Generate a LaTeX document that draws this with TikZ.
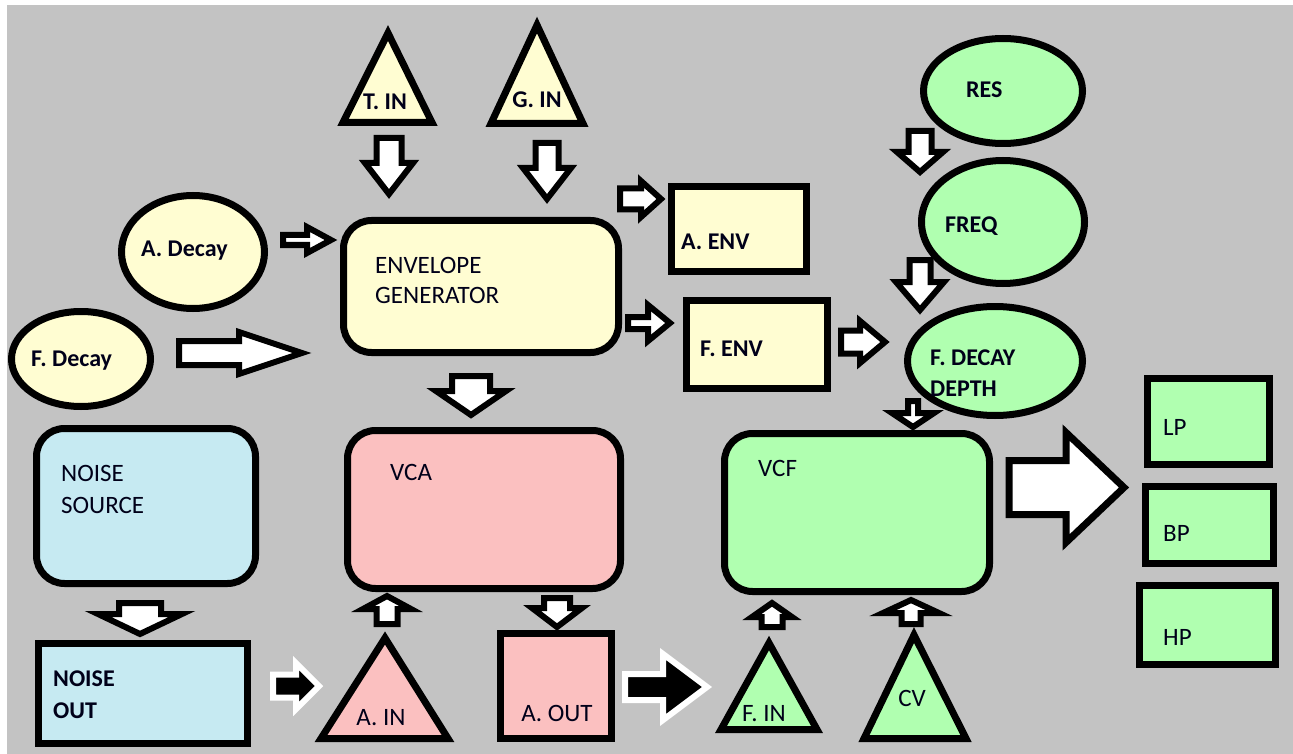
\documentclass[tikz,border=0pt]{standalone}
\usepackage{fontspec}
\setmainfont{Carlito}
\usetikzlibrary{shapes.geometric}
\definecolor{bggray}{RGB}{195,195,195}
\definecolor{cream}{RGB}{255,253,210}
\definecolor{pinkc}{RGB}{251,192,192}
\definecolor{bluec}{RGB}{198,234,242}
\definecolor{greenc}{RGB}{176,255,176}
% block arrow: style, tail x, tail y, angle, length, shaft half width, head half width, head length
\newcommand{\barr}[8]{\draw[#1, shift={(#2,#3)}, rotate=#4] (0,-#6) -- ({#5-#8},-#6) -- ({#5-#8},-#7) -- (#5,0) -- ({#5-#8},#7) -- ({#5-#8},#6) -- (0,#6) -- cycle;}
\begin{document}
\begin{tikzpicture}[x=1pt,y=-1pt,
  box/.style={draw=black, line width=7pt, inner sep=0pt},
  rbox/.style={box, rounded corners=28pt},
  ell/.style={box, ellipse},
  tri/.style={draw=black, line width=7pt, line join=miter},
  warrow/.style={draw=black, fill=white, line width=6pt, line join=miter},
  barrow/.style={draw=white, fill=black, line width=6pt, line join=miter},
  lbl/.style={inner sep=0pt, anchor=base west, text=black!90!blue, font=\fontsize{25}{30}\selectfont},
  blbl/.style={lbl, font=\bfseries\fontsize{24}{29}\selectfont},
  clbl/.style={lbl, anchor=base},
]
\useasboundingbox (0,0) rectangle (1293,754);
\fill[white] (0,0) rectangle (1293,754);
\fill[bggray] (7,5) rectangle (1293,754);

% ---- shapes ----
\node[rbox, fill=cream, minimum width=275pt, minimum height=132pt] (eg) at (481,286.5) {};
\node[rbox, fill=pinkc, minimum width=273pt, minimum height=158pt] (vca) at (484,509.5) {};
\node[rbox, fill=bluec, minimum width=219pt, minimum height=155pt] (ns) at (146,506) {};
\node[rbox, fill=greenc, minimum width=265pt, minimum height=158pt] (vcf) at (857,512.5) {};

\node[box, fill=cream, minimum width=135pt, minimum height=85pt] (aenv) at (739,229) {};
\node[box, fill=cream, minimum width=141pt, minimum height=88pt] (fenv) at (757,344.5) {};
\node[box, fill=bluec, minimum width=209pt, minimum height=100pt] (nout) at (143,693.5) {};
\node[box, fill=pinkc, minimum width=111pt, minimum height=105pt] (aout) at (556,686) {};
\node[box, fill=greenc, minimum width=122pt, minimum height=86pt] (lp) at (1208.5,421.5) {};
\node[box, fill=greenc, minimum width=128pt, minimum height=77pt] (bp) at (1209.5,525) {};
\node[box, fill=greenc, minimum width=136pt, minimum height=79pt] (hp) at (1207.5,625) {};

\node[ell, fill=cream, minimum width=143pt, minimum height=113pt] (adec) at (193,252) {};
\node[ell, fill=cream, minimum width=139pt, minimum height=95pt] (fdec) at (81,359) {};
\node[ell, fill=greenc, minimum width=159pt, minimum height=105pt] (res) at (1003,91) {};
\node[ell, fill=greenc, minimum width=163pt, minimum height=123pt] (freq) at (1003,222) {};
\node[ell, fill=greenc, minimum width=175pt, minimum height=109pt] (fdd) at (995,361) {};

% triangles
\draw[tri, fill=cream] (388,33) -- (432,122.5) -- (343,122.5) -- cycle;
\draw[tri, fill=cream] (537,25) -- (583,123.5) -- (491,123.5) -- cycle;
\draw[tri, fill=pinkc] (385,638) -- (448,738.5) -- (321,738.5) -- cycle;
\draw[tri, fill=greenc] (769,643) -- (817,729.5) -- (721,729.5) -- cycle;
\draw[tri, fill=greenc] (914,635) -- (966,738.5) -- (864,738.5) -- cycle;

% ---- labels ----
\node[clbl, font=\bfseries\fontsize{24}{29}\selectfont] (tin) at (385,110) {T. IN};
\node[clbl, font=\bfseries\fontsize{24}{29}\selectfont] (gin) at (537,108) {G. IN};
\node[blbl] (adect) at (141,256) {A. Decay};
\node[blbl] (fdect) at (31,366) {F. Decay};
\node[lbl] (egt1) at (375,273) {ENVELOPE};
\node[lbl] (egt2) at (375,303) {GENERATOR};
\node[blbl] (aenvt) at (681,250) {A. ENV};
\node[blbl] (fenvt) at (700,356) {F. ENV};
\node[blbl] (rest) at (966,98) {RES};
\node[blbl] (freqt) at (945,233) {FREQ};
\node[blbl] (fddt1) at (930,365) {F. DECAY};
\node[blbl] (fddt2) at (930,396) {DEPTH};
\node[lbl] (nst1) at (61,481) {NOISE};
\node[lbl] (nst2) at (61,513) {SOURCE};
\node[lbl] (vcat) at (390,480) {VCA};
\node[lbl] (vcft) at (758,476) {VCF};
\node[lbl] (lpt) at (1163,435) {LP};
\node[lbl] (bpt) at (1163,541) {BP};
\node[lbl] (hpt) at (1163,645) {HP};
\node[blbl] (noutt1) at (53,686) {NOISE};
\node[blbl] (noutt2) at (53,718) {OUT};
\node[clbl] (aint) at (381,725) {A. IN};
\node[clbl] (aoutt) at (557,721) {A. OUT};
\node[clbl] (fint) at (764,721) {F. IN};
\node[clbl] (cvt) at (912,706) {CV};

% ---- block arrows ----
\barr{warrow}{389}{138}{-90}{56}{12.5}{24}{31}
\barr{warrow}{547}{143}{-90}{56}{11.5}{24}{31}
\barr{warrow}{283}{240}{0}{48}{5}{13}{24}
\barr{warrow}{179}{353}{0}{123}{12}{21}{63}
\barr{warrow}{620}{199}{0}{41}{10.5}{18}{20}
\barr{warrow}{628}{323}{0}{42}{6}{18}{22}
\barr{warrow}{841}{342}{0}{44}{11.5}{21}{25}
\barr{warrow}{920}{131}{-90}{41}{11.5}{23}{20}
\barr{warrow}{920}{260}{-90}{50}{10.5}{24}{28}
\barr{warrow}{913}{401}{-90}{26}{5}{21}{14}
\barr{warrow}{471}{376}{-90}{39}{19}{35}{24}
\barr{warrow}{140}{603}{-90}{31}{21}{42}{20}
\barr{barrow}{273}{686}{0}{46}{11.5}{23}{23}
\barr{warrow}{387}{624}{90}{28}{10.5}{24}{13}
\barr{warrow}{557}{598}{-90}{29}{13}{25}{19}
\barr{barrow}{625}{687}{0}{82}{13}{33}{44}
\barr{warrow}{772}{627}{90}{24}{10.5}{20}{14}
\barr{warrow}{911}{624}{90}{24}{9.5}{28}{13}
\barr{warrow, line width=7pt}{1009}{487.5}{0}{115}{27}{55}{58}
\end{tikzpicture}
\end{document}
